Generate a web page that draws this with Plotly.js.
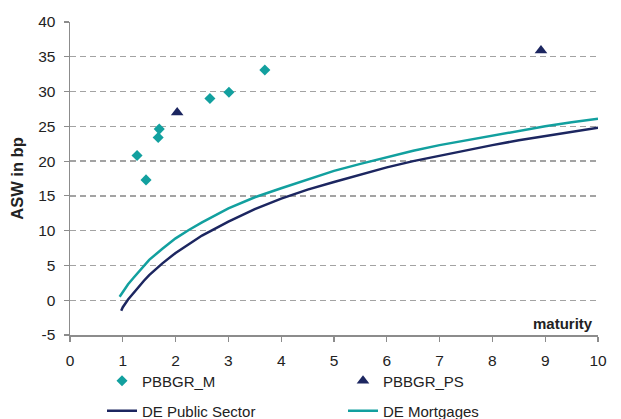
<!DOCTYPE html>
<html><head><meta charset="utf-8">
<script src="https://cdn.plot.ly/plotly-3.0.1.min.js"></script>
<style>html,body{margin:0;padding:0;background:#fff}#chart{width:621px;height:419px}</style>
</head><body><div id="chart"></div>
<script>
// PBBGR_M (mortgage covered bonds)
const mX = [1.27, 1.44, 1.67, 1.69, 2.65, 3.01, 3.69];
const mY = [20.8, 17.3, 23.4, 24.6, 29.0, 29.9, 33.1];
// PBBGR_PS (public sector covered bonds)
const psX = [2.03, 8.92];
const psY = [27.0, 35.9];
// DE Public Sector curve
const pubX = [0.97, 1.0, 1.1, 1.2, 1.3, 1.4, 1.5, 1.75, 2.0, 2.25, 2.5, 3.0, 3.5, 4.0, 4.5, 5.0, 5.5, 6.0, 6.5, 7.0, 7.5, 8.0, 8.5, 9.0, 9.5, 10.0];
const pubY = [-1.5, -1.0, 0.1, 1.0, 2.0, 2.8, 3.6, 5.3, 6.8, 8.1, 9.3, 11.3, 13.1, 14.6, 15.9, 17.0, 18.1, 19.1, 20.0, 20.8, 21.6, 22.3, 23.0, 23.6, 24.2, 24.8];
// DE Mortgages curve
const mortX = [0.94, 1.0, 1.1, 1.2, 1.3, 1.4, 1.5, 1.75, 2.0, 2.25, 2.5, 3.0, 3.5, 4.0, 4.5, 5.0, 5.5, 6.0, 6.5, 7.0, 7.5, 8.0, 8.5, 9.0, 9.5, 10.0];
const mortY = [0.5, 1.2, 2.3, 3.2, 4.1, 5.0, 5.8, 7.4, 8.9, 10.1, 11.2, 13.2, 14.8, 16.1, 17.4, 18.6, 19.6, 20.6, 21.5, 22.3, 23.0, 23.7, 24.4, 25.0, 25.6, 26.1];
// axis ticks
const xTicks = [0, 1, 2, 3, 4, 5, 6, 7, 8, 9, 10];
const xLabels = ['0', '1', '2', '3', '4', '5', '6', '7', '8', '9', '10'];
const yTicks = [-5, 0, 5, 10, 15, 20, 25, 30, 35, 40];
const yLabels = ['-5', '0', '5', '10', '15', '20', '25', '30', '35', '40'];

const TEAL = '#12A09F';
const NAVY = '#1C2660';

const traces = [
  {x: mX, y: mY, name: 'PBBGR_M', type: 'scatter', mode: 'markers',
   marker: {symbol: 'diamond', size: 8.5, color: TEAL}, legend: 'legend'},
  {x: psX, y: psY, name: 'PBBGR_PS', type: 'scatter', mode: 'markers',
   marker: {symbol: 'triangle-up', size: 11, color: NAVY}, legend: 'legend'},
  {x: pubX, y: pubY, name: 'DE Public Sector', type: 'scatter', mode: 'lines',
   line: {color: NAVY, width: 2.5}, legend: 'legend2'},
  {x: mortX, y: mortY, name: 'DE Mortgages', type: 'scatter', mode: 'lines',
   line: {color: TEAL, width: 2.5}, legend: 'legend2'}
];

const FONT = '"Liberation Sans", Arial, sans-serif';
const legendBase = {orientation: 'h', xref: 'container', yref: 'container',
  x: 102/621, xanchor: 'left', yanchor: 'middle', entrywidth: 196,
  font: {size: 15, color: '#222'}, bgcolor: 'rgba(0,0,0,0)', borderwidth: 0};

const layout = {
  width: 621, height: 419,
  margin: {l: 70, r: 23, t: 22, b: 84},
  paper_bgcolor: '#fff', plot_bgcolor: '#fff',
  font: {family: FONT, size: 15, color: '#222'},
  xaxis: {range: [0, 10], tickvals: xTicks, ticktext: xLabels, showgrid: false, zeroline: false,
    showline: true, linecolor: '#8c8c8c', linewidth: 1.5,
    ticks: 'outside', ticklen: 5, tickcolor: '#8c8c8c', tickwidth: 1.2,
    ticklabelstandoff: 6, tickfont: {size: 15.5}},
  yaxis: {range: [-5, 40], tickvals: yTicks, ticktext: yLabels, showgrid: true, gridcolor: '#a3a3a3',
    griddash: '6px,4px', gridwidth: 1.3, zeroline: false,
    showline: true, linecolor: '#8c8c8c', linewidth: 1.5,
    ticks: 'outside', ticklen: 5, tickcolor: '#8c8c8c', tickwidth: 1.2,
    ticklabelstandoff: 5, tickfont: {size: 15.5},
    title: {text: '<b>ASW in bp</b>', font: {size: 16.5}, standoff: 10}},
  showlegend: true,
  legend: Object.assign({}, legendBase, {y: 1 - 381/419}),
  legend2: Object.assign({}, legendBase, {y: 1 - 411/419}),
  annotations: [{text: '<b>maturity</b>', xref: 'x', yref: 'y', x: 10, y: -5,
    xanchor: 'right', yanchor: 'bottom', showarrow: false, xshift: -3, yshift: 1,
    font: {size: 15, color: '#222'}}]
};

Plotly.newPlot('chart', traces, layout, {displayModeBar: false, staticPlot: true});
</script>
</body></html>
